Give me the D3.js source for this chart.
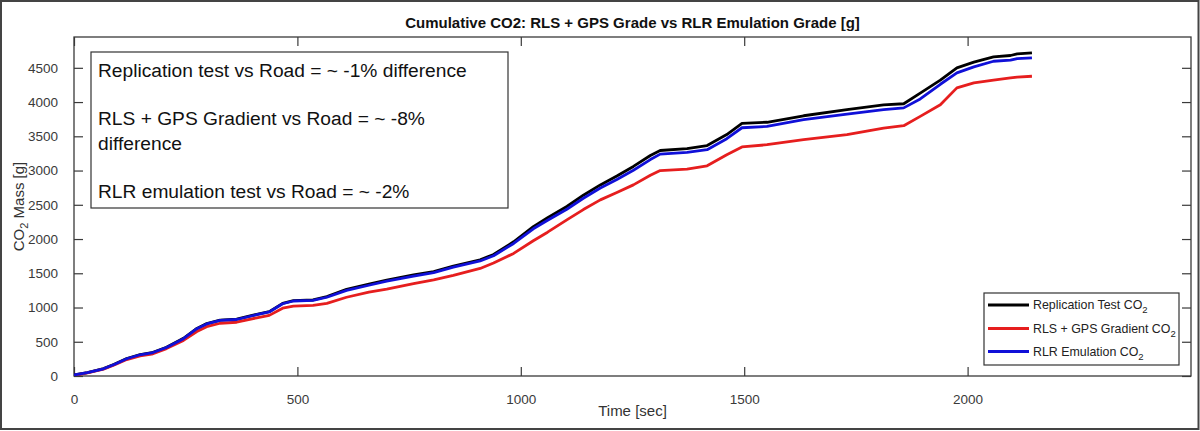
<!DOCTYPE html>
<html>
<head>
<meta charset="utf-8">
<script src="https://cdn.jsdelivr.net/npm/d3@7/dist/d3.min.js"></script>
<style>
  html, body { margin: 0; padding: 0; background: #fff; }
  svg { display: block; font-family: "Liberation Sans", Arial, sans-serif; }
</style>
</head>
<body>
<svg id="chart" width="1200" height="431"></svg>
<script>
// ---- data ----
const timeSec = [0, 30, 66, 90, 118, 148, 174, 207, 245, 275, 297, 327, 364, 409, 437, 467, 491, 535, 566, 610, 660, 700, 760, 805, 849, 909, 939, 984, 1028, 1060, 1103, 1140, 1178, 1215, 1252, 1290, 1312, 1372, 1417, 1461, 1495, 1551, 1633, 1730, 1812, 1857, 1894, 1939, 1976, 2014, 2058, 2096, 2111, 2144];
const replicationCO2 = [15, 50, 108, 170, 255, 313, 340, 420, 550, 695, 765, 815, 830, 900, 940, 1060, 1100, 1110, 1160, 1265, 1340, 1400, 1475, 1525, 1605, 1695, 1775, 1960, 2180, 2310, 2475, 2640, 2790, 2920, 3060, 3220, 3293, 3320, 3365, 3525, 3690, 3705, 3800, 3890, 3960, 3975, 4130, 4320, 4500, 4582, 4660, 4680, 4705, 4719];
const rlsGpsCO2 = [10, 45, 100, 160, 240, 295, 320, 400, 520, 650, 720, 770, 785, 850, 885, 990, 1020, 1030, 1060, 1150, 1225, 1270, 1350, 1405, 1470, 1570, 1650, 1790, 1975, 2100, 2279, 2430, 2572, 2680, 2791, 2930, 3000, 3021, 3069, 3230, 3345, 3377, 3450, 3523, 3621, 3655, 3791, 3960, 4207, 4280, 4320, 4353, 4365, 4377];
const rlrEmulationCO2 = [15, 48, 105, 168, 252, 310, 336, 416, 545, 690, 760, 812, 825, 895, 935, 1055, 1095, 1105, 1150, 1250, 1325, 1385, 1460, 1510, 1590, 1680, 1755, 1935, 2150, 2275, 2435, 2595, 2745, 2870, 3005, 3160, 3240, 3265, 3305, 3465, 3625, 3645, 3742, 3825, 3890, 3915, 4045, 4260, 4426, 4514, 4596, 4611, 4635, 4646];
const xTicks = [0, 500, 1000, 1500, 2000];
const yTicks = [0, 500, 1000, 1500, 2000, 2500, 3000, 3500, 4000, 4500];
const seriesNames = ["Replication Test CO", "RLS + GPS Gradient CO", "RLR Emulation CO"];
const seriesColors = ["#000000", "#e61e1e", "#1010d8"];
const annotationLines = [
  "Replication test vs Road = ~ -1% difference",
  "RLS + GPS Gradient vs Road = ~ -8%",
  "difference",
  "RLR emulation test vs Road = ~ -2%"
];
const titleText = "Cumulative CO2: RLS + GPS Grade vs RLR Emulation Grade [g]";

// ---- layout ----
const svg = d3.select("#chart");
const W = 1200, H = 431;
const plot = { left: 74, right: 1191, top: 37, bottom: 376 };
const axisColor = "#3a3a3a";
const tickLen = 9;

svg.append("rect").attr("x", 1).attr("y", 1).attr("width", W - 2.5).attr("height", H - 3)
  .attr("fill", "#fff").attr("stroke", "#444").attr("stroke-width", 2);

const x = d3.scaleLinear().domain([0, 2500]).range([plot.left, plot.right]);
const y = d3.scaleLinear().domain([0, 4950]).range([plot.bottom, plot.top]);

// axes (ticks inward on all sides)
const gx = svg.append("g").attr("transform", `translate(0,${plot.bottom})`)
  .call(d3.axisBottom(x).tickValues(xTicks).tickSizeInner(-tickLen).tickSizeOuter(0).tickPadding(9 + tickLen).tickFormat(d3.format("d")));
const gxTop = svg.append("g").attr("transform", `translate(0,${plot.top})`)
  .call(d3.axisTop(x).tickValues(xTicks).tickSizeInner(-tickLen).tickSizeOuter(0).tickFormat(""));
const gy = svg.append("g").attr("transform", `translate(${plot.left},0)`)
  .call(d3.axisLeft(y).tickValues(yTicks).tickSizeInner(-tickLen).tickSizeOuter(0).tickPadding(7 + tickLen).tickFormat(d3.format("d")));
const gyR = svg.append("g").attr("transform", `translate(${plot.right},0)`)
  .call(d3.axisRight(y).tickValues(yTicks).tickSizeInner(-tickLen).tickSizeOuter(0).tickFormat(""));

[gx, gxTop, gy, gyR].forEach(g => {
  g.select(".domain").remove();
  g.selectAll("line").attr("stroke", axisColor).attr("stroke-width", 1.2);
  g.selectAll("text").attr("fill", "#3a3a3a").style("font-size", "13.5px")
    .style("font-family", "'Liberation Sans', Arial, sans-serif");
});

svg.append("rect").attr("x", plot.left).attr("y", plot.top)
  .attr("width", plot.right - plot.left).attr("height", plot.bottom - plot.top)
  .attr("fill", "none").attr("stroke", axisColor).attr("stroke-width", 1.3);

// lines
const allSeries = [replicationCO2, rlsGpsCO2, rlrEmulationCO2];
const line = d3.line().x((d, i) => x(timeSec[i])).y(d => y(d));
svg.append("clipPath").attr("id", "pc").append("rect")
  .attr("x", plot.left).attr("y", plot.top).attr("width", plot.right - plot.left).attr("height", plot.bottom - plot.top);
[0, 1, 2].forEach(k => {
  svg.append("path").datum(allSeries[k])
    .attr("d", line).attr("fill", "none")
    .attr("stroke", seriesColors[k]).attr("stroke-width", 2.8)
    .attr("stroke-linejoin", "round").attr("clip-path", "url(#pc)");
});

// title
svg.append("text").attr("x", (plot.left + plot.right) / 2).attr("y", 28)
  .attr("text-anchor", "middle").style("font-size", "15px").style("font-weight", "bold")
  .attr("fill", "#111").text(titleText);

// x label
svg.append("text").attr("x", (plot.left + plot.right) / 2).attr("y", 416)
  .attr("text-anchor", "middle").style("font-size", "15px").attr("fill", "#333").text("Time [sec]");

// y label
const yl = svg.append("text").attr("transform", `translate(24,${(plot.top + plot.bottom) / 2}) rotate(-90)`)
  .attr("text-anchor", "middle").style("font-size", "15px").attr("fill", "#333");
yl.append("tspan").text("CO");
yl.append("tspan").attr("dy", 4).style("font-size", "11px").text("2");
yl.append("tspan").attr("dy", -4).text(" Mass [g]");

// annotation box
svg.append("rect").attr("x", 91).attr("y", 52).attr("width", 417).attr("height", 156)
  .attr("fill", "#fff").attr("stroke", "#333").attr("stroke-width", 1.2);
const annY = [77, 125, 150, 198];
annotationLines.forEach((t, i) => {
  svg.append("text").attr("x", 98).attr("y", annY[i]).style("font-size", "19.2px")
    .attr("fill", "#111").text(t);
});

// legend
svg.append("rect").attr("x", 984).attr("y", 293).attr("width", 195).attr("height", 72)
  .attr("fill", "#fff").attr("stroke", "#333").attr("stroke-width", 1.2);
const legY = [305, 328.5, 351.5];
seriesNames.forEach((name, i) => {
  svg.append("line").attr("x1", 988).attr("x2", 1029).attr("y1", legY[i]).attr("y2", legY[i])
    .attr("stroke", seriesColors[i]).attr("stroke-width", 2.8);
  const t = svg.append("text").attr("x", 1033).attr("y", legY[i] + 4).style("font-size", "12.4px").attr("fill", "#222");
  t.append("tspan").text(name);
  t.append("tspan").attr("dy", 4).style("font-size", "9.5px").text("2");
});
</script>
</body>
</html>
